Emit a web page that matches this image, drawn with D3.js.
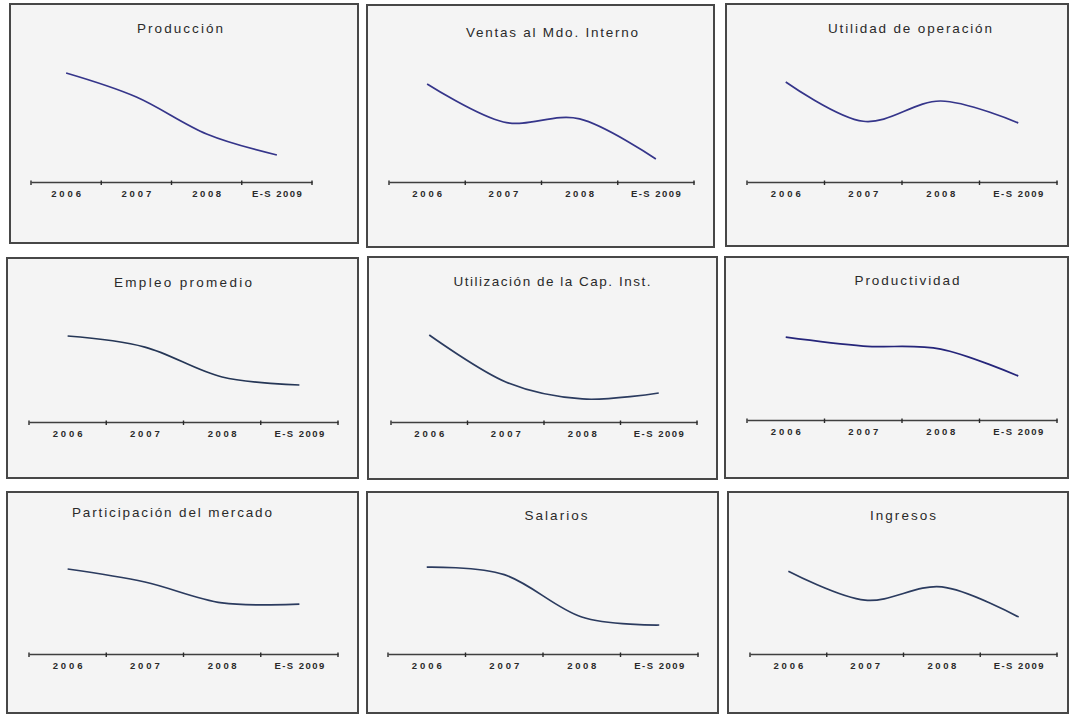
<!DOCTYPE html>
<html>
<head>
<meta charset="utf-8">
<script src="https://cdn.jsdelivr.net/npm/d3@7"></script>
<style>
  html, body { margin: 0; padding: 0; background: #ffffff; }
  svg { display: block; }
</style>
</head>
<body>
<svg id="chart" width="1070" height="715"></svg>
<script>
// ---------- DATA ----------
const categories = ["2006", "2007", "2008", "E-S 2009"];
const titles = [
  "Producción",
  "Ventas al Mdo. Interno",
  "Utilidad de operación",
  "Empleo promedio",
  "Utilización de la Cap. Inst.",
  "Productividad",
  "Participación del mercado",
  "Salarios",
  "Ingresos"
];
// index values (no y axis in the original; read relative to the x axis)
const produccion     = [79.0, 61.6, 34.8, 19.6];
const ventasInterno  = [71.0, 43.5, 45.7, 16.7];
const utilidadOper   = [72.5, 44.0, 58.7, 42.8];
const empleo         = [62.3, 54.3, 32.6, 26.8];
const utilizacionCap = [63.0, 29.0, 16.7, 21.0];
const productividad  = [60.0, 53.6, 51.4, 31.9];
const participacion  = [61.6, 52.2, 37.0, 36.2];
const salarios       = [63.0, 57.5, 26.8, 21.0];
const ingresos       = [60.0, 39.0, 48.6, 26.8];
const seriesList = [produccion, ventasInterno, utilidadOper, empleo, utilizacionCap,
                    productividad, participacion, salarios, ingresos];

// ---------- LAYOUT (positions / styles, not data) ----------
const layout = [
  {x: 10,  y: 4,   w: 348, h: 239, ax0: 31,  ax1: 312,  ay: 182, tx: 180, ty: 33,  c: "#35358a"},
  {x: 367, y: 5,   w: 347, h: 242, ax0: 389, ax1: 694,  ay: 182, tx: 552, ty: 37,  c: "#35358a"},
  {x: 726, y: 4,   w: 342, h: 242, ax0: 747, ax1: 1057, ay: 182, tx: 910, ty: 33,  c: "#35358a"},
  {x: 7,   y: 258, w: 351, h: 220, ax0: 29,  ax1: 338,  ay: 422, tx: 183, ty: 287, c: "#253656"},
  {x: 368, y: 257, w: 349, h: 222, ax0: 391, ax1: 697,  ay: 422, tx: 552, ty: 286, c: "#2b3b5f"},
  {x: 725, y: 257, w: 343, h: 221, ax0: 747, ax1: 1057, ay: 420, tx: 907, ty: 285, c: "#25257a"},
  {x: 7,   y: 492, w: 351, h: 221, ax0: 29,  ax1: 338,  ay: 654, tx: 172, ty: 517, c: "#2b3b5f"},
  {x: 367, y: 492, w: 351, h: 221, ax0: 388, ax1: 698,  ay: 654, tx: 556, ty: 520, c: "#2b3b5f"},
  {x: 728, y: 492, w: 340, h: 221, ax0: 750, ax1: 1057, ay: 654, tx: 903, ty: 520, c: "#2b3b5f"}
];
const titleWidths = [86, 172, 164, 138, 197, 105, 200, 63, 66];
const labelWidths = [30, 30, 29, 50];

const svg = d3.select("#chart");

layout.forEach((L, i) => {
  const g = svg.append("g");

  // panel frame
  g.append("rect")
    .attr("x", L.x).attr("y", L.y)
    .attr("width", L.w).attr("height", L.h)
    .attr("fill", "#f4f4f4")
    .attr("stroke", "#474747")
    .attr("stroke-width", 2);

  // title
  g.append("text")
    .attr("x", L.tx).attr("y", L.ty)
    .attr("text-anchor", "middle")
    .attr("font-family", "'Liberation Sans', Arial, sans-serif")
    .attr("font-size", 13.5)
    .attr("fill", "#2a2a2a")
    .attr("textLength", titleWidths[i])
    .attr("lengthAdjust", "spacing")
    .text(titles[i]);

  // scales
  const x = d3.scaleBand().domain(categories).range([L.ax0, L.ax1]).padding(0);
  const y = d3.scaleLinear().domain([0, 100]).range([L.ay, L.ay - 138]);

  // x axis
  const axis = d3.axisBottom(x).tickSize(0).tickFormat("");
  const ag = g.append("g").attr("transform", `translate(0,${L.ay})`).call(axis);
  ag.select(".domain").attr("stroke", "#3f3f3f").attr("stroke-width", 1.6);
  ag.selectAll(".tick").remove();

  // tick marks at band boundaries
  const bounds = categories.map(c => x(c)).concat([L.ax1]);
  g.selectAll(".tm").data(bounds).enter().append("line")
    .attr("x1", d => d).attr("x2", d => d)
    .attr("y1", L.ay - 1.5).attr("y2", L.ay + 3)
    .attr("stroke", "#2a2a2a").attr("stroke-width", 1.4);

  // category labels
  g.selectAll(".lbl").data(categories).enter().append("text")
    .attr("x", d => x(d) + x.bandwidth() / 2)
    .attr("y", L.ay + 15)
    .attr("text-anchor", "middle")
    .attr("font-family", "'Liberation Sans', Arial, sans-serif")
    .attr("font-size", 9.5)
    .attr("font-weight", "bold")
    .attr("fill", "#2a2a2a")
    .attr("textLength", (d, j) => labelWidths[j])
    .attr("lengthAdjust", "spacing")
    .text(d => d);

  // smoothed line
  const line = d3.line()
    .x((d, j) => x(categories[j]) + x.bandwidth() / 2)
    .y(d => y(d))
    .curve(d3.curveCardinal.tension(0));

  g.append("path")
    .datum(seriesList[i])
    .attr("d", line)
    .attr("fill", "none")
    .attr("stroke", L.c)
    .attr("stroke-width", 1.7);
});
</script>
</body>
</html>
